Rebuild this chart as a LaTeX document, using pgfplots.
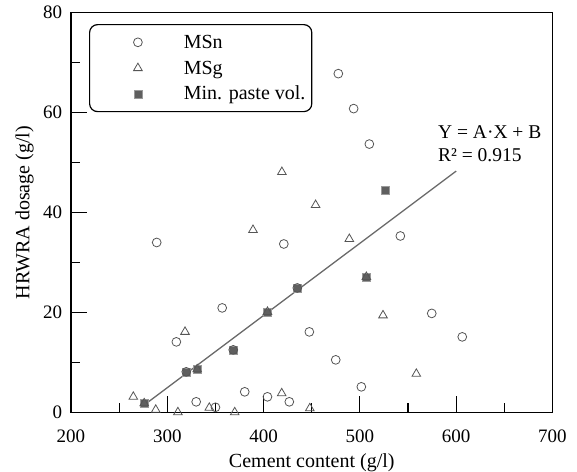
\documentclass[border=0pt]{standalone}
\usepackage{pgfplots}
\pgfplotsset{compat=1.18}
\usepackage{fontspec}
\setmainfont{Liberation Serif}
\definecolor{mkgray}{HTML}{555555}
\definecolor{sqfill}{HTML}{5F5F5F}
\definecolor{sqedge}{HTML}{9A9A9A}
\definecolor{fitgray}{HTML}{6A6A6A}
\begin{document}
\begin{tikzpicture}
\path[use as bounding box] (-71bp,-59.7bp) rectangle (506bp,412.3bp);
\begin{axis}[
 scale only axis, width=481.5bp, height=399.6bp,
 at={(0,0)}, anchor=south west,
 xmin=200, xmax=700, ymin=0, ymax=80,
 xtick={200,300,...,700}, ytick={0,20,...,80},
 minor xtick={250,350,...,650}, minor ytick={10,30,50,70},
 tick align=inside, xtick pos=left, ytick pos=left,
 major tick length=16bp, minor tick length=9bp,
 tick style={black, line width=1.2bp},
 axis line style={line width=1.2bp, black},
 clip=false,
 /pgf/number format/assume math mode=true,
 tick label style={font=\fontsize{19bp}{22bp}\selectfont},
 xticklabel style={anchor=base, inner sep=0pt, yshift=-29.7bp},
 yticklabel style={anchor=east, inner sep=0pt, xshift=-8.7bp},
 xlabel={Cement content (g/l)}, ylabel={HRWRA dosage (g/l)},
 label style={font=\fontsize{20bp}{24bp}\selectfont},
 xlabel style={at={(axis description cs:0.5,-0.1379)}, anchor=base, inner sep=0pt},
 ylabel style={at={(axis description cs:-0.0862,0.5)}, anchor=base, inner sep=0pt},
 legend style={at={(rel axis cs:0.0374,0.9717)}, anchor=north west, draw=black, line width=1.2bp, rounded corners=8bp, inner xsep=0pt, inner ysep=4.8bp, row sep=0pt, column sep=0pt, font=\fontsize{20bp}{24bp}\selectfont, nodes={inner sep=0pt, text height=18.9bp, text depth=6.9bp}},
 legend cell align=left,
 legend image code/.code={\path (0bp,0bp) (93bp,0bp); \draw[sharp corners,#1] plot coordinates {(47.7bp,0bp)};},
]
\addplot[draw=fitgray, line width=1.3bp, forget plot] coordinates {(277,1.6) (600,48.3)};
\addplot[only marks, mark=square*, mark size=4bp, mark options={fill=sqfill, draw=sqedge, line width=0.6bp}, forget plot] coordinates {
(276,1.8) (320,8.1) (331,8.6) (368.5,12.5) (404,20.1) (435,24.9) (506.7,27.1) (526,44.5)};
\addplot[only marks, draw=mkgray, mark=o, mark size=4.4bp, mark options={draw=mkgray, line width=0.8bp}] coordinates {
(289,34.0) (421,33.7) (357,20.9) (447.5,16.1) (309.4,14.1) (368.5,12.5) (319.7,8.1) (435,24.9)
(330,2.1) (350,1.0) (380.4,4.1) (404,3.1) (426.7,2.1) (542,35.3) (574.6,19.8) (606.3,15.1)
(474.9,10.5) (501.5,5.1) (477.6,67.8) (493.5,60.8) (509.8,53.7)};
\addlegendentry{\makebox[128bp][l]{MSn}}
\addplot[only marks, draw=mkgray, mark=triangle, mark size=5bp, mark options={draw=mkgray, line width=0.8bp}] coordinates {
(389,36.5) (454,41.5) (318.4,16.1) (404,20.1) (331,8.6) (276,1.8) (264.7,3.1) (288,0.5)
(311,0) (343.6,0.9) (370,0) (418.8,3.8) (448,0.8) (489,34.7) (506.7,27.1) (524,19.4)
(558.6,7.7) (419,48.1)};
\addlegendentry{\makebox[128bp][l]{MSg}}
\addlegendimage{only marks, mark=square*, mark size=4bp, mark options={fill=sqfill, draw=sqedge, line width=0.6bp}}
\addlegendentry{\makebox[128bp][l]{Min. paste vol.}}
\node[anchor=west, align=left, inner sep=0pt, font=\fontsize{19.5bp}{23.3bp}\selectfont] at (axis cs:581,53.8) {Y = A·X + B\\R² = 0.915};
\end{axis}
\end{tikzpicture}
\end{document}
